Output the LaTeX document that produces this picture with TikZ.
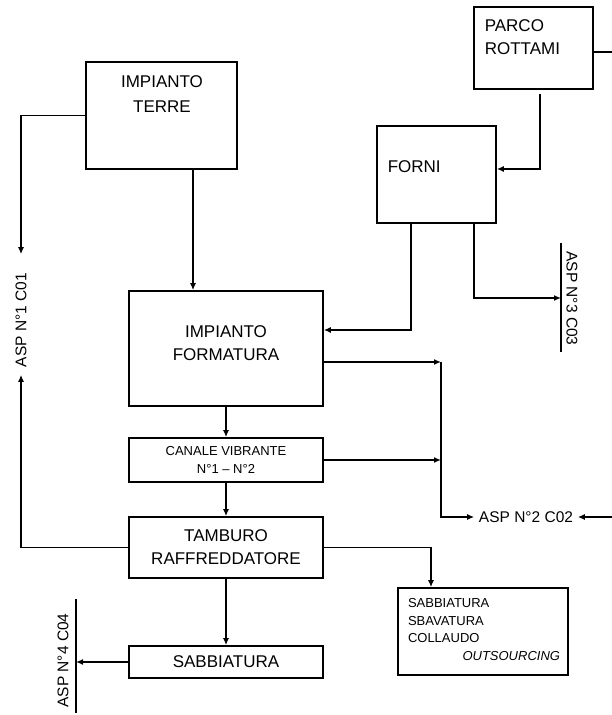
\documentclass[tikz,border=0pt]{standalone}
\usepackage{fontspec}
\setmainfont{Liberation Sans}
\usetikzlibrary{arrows.meta}

\begin{document}
\begin{tikzpicture}[x=1pt, y=-1pt, line width=1.6pt,
  box/.style={draw, rectangle, inner sep=0pt, align=center, font=\fontsize{17}{23}\selectfont},
  txt/.style={inner sep=0pt, align=left, font=\fontsize{17}{23}\selectfont},
  small/.style={font=\fontsize{13}{17.7}\selectfont},
  asp/.style={inner sep=0pt, font=\fontsize{15.5}{18}\selectfont},
  flow/.style={-{Latex[length=7pt, width=6pt]}}]
  \useasboundingbox (0,0) rectangle (612,715);

  % Upper boxes
  \node[box, minimum width=119pt, minimum height=82pt] (parco) at (533.5,48) {};
  \node[txt, anchor=west] (parcot) at (484,37) {PARCO\\ROTTAMI};
  \node[box, minimum width=151pt, minimum height=107pt] (terre) at (161.5,115.5) {};
  \node[txt, align=center] (terret) at (162,94.5) {IMPIANTO\\[2pt]TERRE};
  \node[box, minimum width=119pt, minimum height=97pt] (forni) at (436.5,174.5) {};
  \node[txt, anchor=west] (fornit) at (387,167) {FORNI};

  % Main line
  \node[box, minimum width=194pt, minimum height=115pt] (formatura) at (226,348.5) {};
  \node[txt, align=center] (formaturat) at (226,343) {IMPIANTO\\FORMATURA};
  \node[box, small, minimum width=194pt, minimum height=44pt] (canale) at (226,460) {CANALE VIBRANTE\\N°1 – N°2};
  \node[box, minimum width=194pt, minimum height=61pt] (tambur) at (226,547.5) {TAMBURO\\RAFFREDDATORE};
  \node[box, minimum width=194pt, minimum height=32pt] (sabb) at (226,662) {SABBIATURA};

  % Outsourcing
  \node[box, minimum width=170pt, minimum height=87pt] (outs) at (483,631.5) {};
  \node[txt, small, text width=152pt] (outst) at (484,629.5) {SABBIATURA\\SBAVATURA\\COLLAUDO\\\hfill\textit{OUTSOURCING}};

  % Suction points
  \node[asp, rotate=90] (asp1) at (21,320) {ASP N°1 C01};
  \node[asp, inner xsep=4pt] (asp2) at (526,517) {ASP N°2 C02};
  \node[asp, rotate=-90] (asp3) at (572,298.5) {ASP N°3 C03};
  \node[asp, rotate=90] (asp4) at (63,660.5) {ASP N°4 C04};
  \coordinate (bar3a) at (561,243);
  \coordinate (bar3b) at (561,352);
  \draw (bar3a) -- (bar3b);
  \coordinate (bar4a) at (76,599);
  \coordinate (bar4b) at (76,713);
  \draw (bar4a) -- (bar4b);

  % Connectors
  \coordinate (tx) at (193,0);
  \draw[flow] (terre.south -| tx) -- (formatura.north -| tx);
  \draw[flow] (terre.west) -| ([yshift=18pt]asp1.east);
  \draw[flow] (tambur.west) -| ([yshift=-7pt]asp1.west);
  \coordinate (pr) at (612,52);
  \draw (parco.east |- pr) -- (pr);
  \coordinate (px) at (540,169);
  \draw[flow, shorten <=4pt] (parco.south -| px) |- (forni.east |- px);
  \coordinate (fa) at (411,330);
  \draw[flow] (forni.south -| fa) |- (formatura.east |- fa);
  \coordinate (fb) at (474,298);
  \coordinate (c03) at (561,298);
  \draw[flow] (forni.south -| fb) |- (c03);
  \coordinate (jn) at (441,362);
  \draw[flow] (formatura.east |- jn) -- (jn);
  \draw[flow] (jn) |- (asp2.west);
  \draw[flow] (canale.east) -- (canale.east -| jn);
  \coordinate (c02r) at (612,517);
  \draw[flow] (c02r) -- (asp2.east);
  \draw[flow] (formatura) -- (canale);
  \draw[flow] (canale) -- (tambur);
  \draw[flow] (tambur) -- (sabb);
  \coordinate (ox) at (431,544);
  \draw[flow] (tambur.east) -| (outs.north -| ox);
  \coordinate (c04) at (76,662);
  \draw[flow] (sabb.west) -- (c04);

\end{tikzpicture}
\end{document}
